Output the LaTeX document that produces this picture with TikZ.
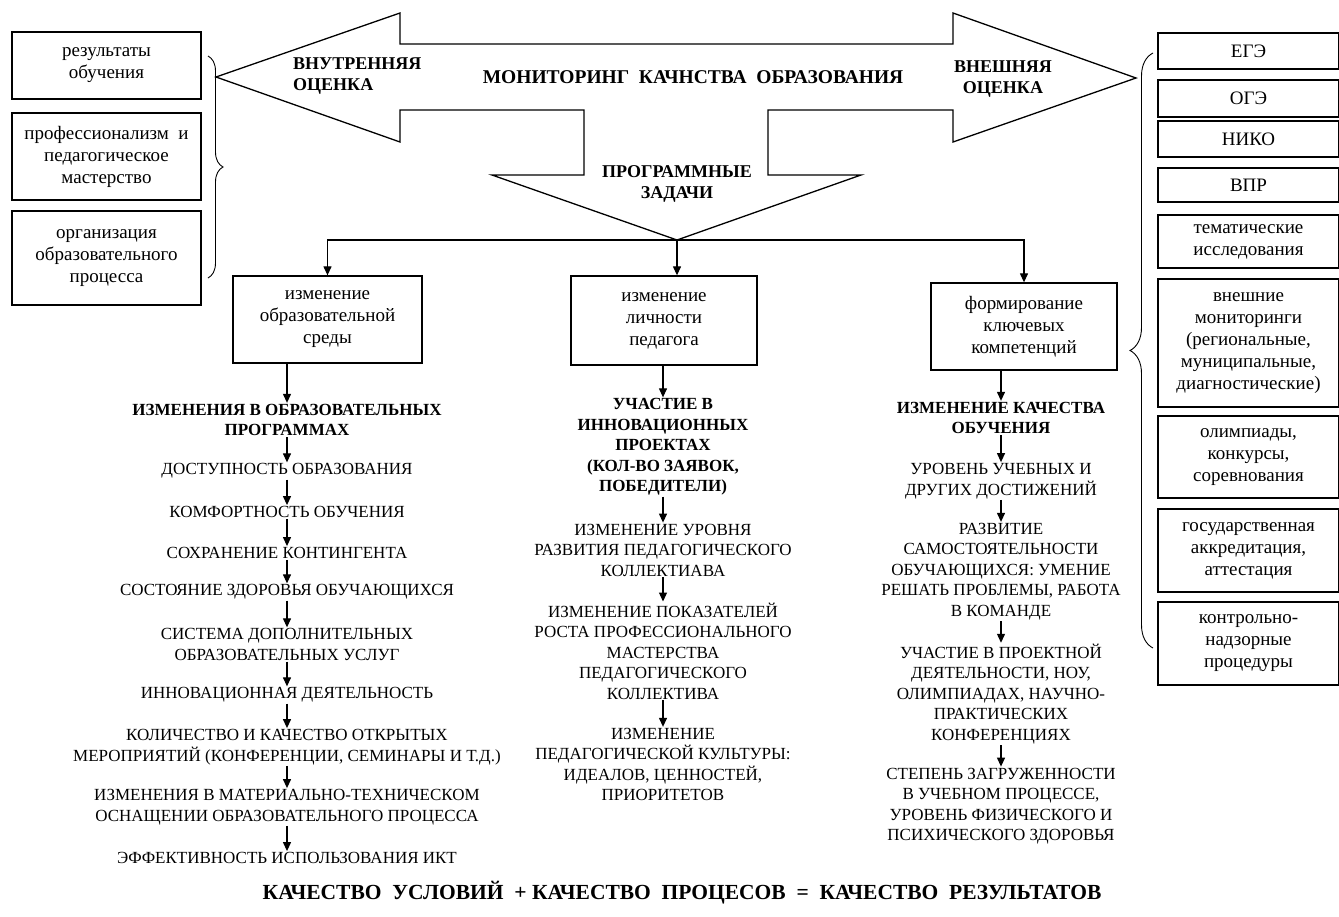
\documentclass[tikz,border=0pt]{standalone}
\usepackage{fontspec}
\setmainfont{LiberationSerif}[Extension=.ttf, UprightFont=*-Regular, BoldFont=*-Bold, ItalicFont=*-Italic, BoldItalicFont=*-BoldItalic]
\usetikzlibrary{arrows.meta, decorations.pathreplacing, calc}

\tikzset{
    box/.style={draw, line width=1.3pt, align=center, inner sep=0pt, font=\fontsize{19}{22}\selectfont},
    captxt/.style={align=center, inner sep=1pt, font=\fontsize{17}{20.5}\selectfont},
    capbold/.style={align=center, inner sep=1pt, font=\bfseries\fontsize{17}{20.5}\selectfont},
    lbl/.style={align=center, inner sep=0pt, font=\bfseries\fontsize{18}{21}\selectfont},
    arr/.style={line width=1.2pt, -{Triangle[length=9pt,width=8pt]}},
    brc/.style={line width=0.9pt, decorate, decoration={brace, amplitude=#1}},
}

\begin{document}
\begin{tikzpicture}[x=1pt, y=-1pt]
    \useasboundingbox (0,0) rectangle (1339,916);
    % big arrow
    \draw[line width=1.3pt, line join=miter] (216,77) -- (400,13) -- (400,44) -- (953,44) -- (953,13)
        -- (1136,78) -- (953,142) -- (953,110) -- (768,110) -- (768,175) -- (861,175)
        -- (677,240) -- (492,175) -- (584,175) -- (584,110) -- (400,110) -- (400,142) -- cycle;
    \node[lbl, align=left, anchor=west] (inner) at (293,76.5) {ВНУТРЕННЯЯ\\ОЦЕНКА};
    \node[lbl, font=\bfseries\fontsize{19.5}{22}\selectfont] (title) at (693,77) {МОНИТОРИНГ~~КАЧНСТВА~~ОБРАЗОВАНИЯ};
    \node[lbl] (outer) at (1003,79) {ВНЕШНЯЯ\\ОЦЕНКА};
    \node[lbl] (tasks) at (677,183.5) {ПРОГРАММНЫЕ\\ЗАДАЧИ};
    \coordinate (tip) at (677,240);

    % left boxes
    \node[box, minimum width=189pt, minimum height=67pt] (res) at (106.5,65.5) {результаты\\обучения};
    \node[box, minimum width=189pt, minimum height=87pt] (prof) at (106.5,156.5) {профессионализм~ и\\педагогическое\\мастерство};
    \node[box, minimum width=189pt, minimum height=94pt] (org) at (106.5,258) {организация\\образовательного\\процесса};
    \draw[brc=15pt] (208,56) -- (208,278);

    % right boxes
    \node[box, minimum width=181pt, minimum height=36pt] (ege) at (1248.5,51) {ЕГЭ};
    \node[box, minimum width=181pt, minimum height=37pt] (oge) at (1248.5,98.5) {ОГЭ};
    \node[box, minimum width=181pt, minimum height=36pt] (niko) at (1248.5,139) {НИКО};
    \node[box, minimum width=181pt, minimum height=34pt] (vpr) at (1248.5,185) {ВПР};
    \node[box, minimum width=181pt, minimum height=53pt] (them) at (1248.5,241.5) {тематические\\исследования};
    \node[box, minimum width=181pt, minimum height=128pt] (extm) at (1248.5,343) {внешние\\мониторинги\\(региональные,\\муниципальные,\\диагностические)};
    \node[box, minimum width=181pt, minimum height=82pt] (olym) at (1248.5,457) {олимпиады,\\конкурсы,\\соревнования};
    \node[box, minimum width=181pt, minimum height=83pt] (gos) at (1248.5,550.5) {государственная\\аккредитация,\\аттестация};
    \node[box, minimum width=181pt, minimum height=83pt] (ctrl) at (1248.5,643.5) {контрольно-\\надзорные\\процедуры};
    \draw[brc=23pt] (1153,648) -- (1153,53);

    % task boxes
    \node[box, minimum width=189pt, minimum height=87pt] (env) at (327.5,319.5) {изменение\\образовательной\\среды};
    \node[box, minimum width=186pt, minimum height=89pt] (pers) at (664,320.5) {изменение\\личности\\педагога};
    \node[box, minimum width=186pt, minimum height=87pt] (comp) at (1024,326.5) {формирование\\ключевых\\компетенций};
    \draw[arr] (tip) -| (env.north);
    \draw[arr] (tip) -- (tip |- pers.north);
    \draw[arr] (tip) -| (comp.north);

    % left column
    \node[capbold] (L0) at (287,420) {ИЗМЕНЕНИЯ В ОБРАЗОВАТЕЛЬНЫХ\\ПРОГРАММАХ};
    \node[captxt] (L1) at (287,471) {ДОСТУПНОСТЬ ОБРАЗОВАНИЯ};
    \node[captxt] (L2) at (287,512) {КОМФОРТНОСТЬ ОБУЧЕНИЯ};
    \node[captxt] (L3) at (287,553) {СОХРАНЕНИЕ КОНТИНГЕНТА};
    \node[captxt] (L4) at (287,592) {СОСТОЯНИЕ ЗДОРОВЬЯ ОБУЧАЮЩИХСЯ};
    \node[captxt] (L5) at (287,644.5) {СИСТЕМА ДОПОЛНИТЕЛЬНЫХ\\ОБРАЗОВАТЕЛЬНЫХ УСЛУГ};
    \node[captxt] (L6) at (287,695) {ИННОВАЦИОННАЯ ДЕЯТЕЛЬНОСТЬ};
    \node[captxt] (L7) at (287,747) {КОЛИЧЕСТВО И КАЧЕСТВО ОТКРЫТЫХ\\МЕРОПРИЯТИЙ (КОНФЕРЕНЦИИ, СЕМИНАРЫ И Т.Д.)};
    \node[captxt] (L8) at (287,807) {ИЗМЕНЕНИЯ В МАТЕРИАЛЬНО-ТЕХНИЧЕСКОМ\\ОСНАЩЕНИИ ОБРАЗОВАТЕЛЬНОГО ПРОЦЕССА};
    \node[captxt] (L9) at (287,858) {ЭФФЕКТИВНОСТЬ ИСПОЛЬЗОВАНИЯ ИКТ};
    \draw[arr] (env.south -| L0.north) -- (L0.north);
    \foreach \a/\b in {L0/L1, L1/L2, L2/L3, L3/L4, L4/L5, L5/L6, L6/L7, L7/L8, L8/L9}
        \draw[arr] (\a) -- (\b);

    % middle column
    \node[capbold] (M0) at (663,447) {УЧАСТИЕ В\\ИННОВАЦИОННЫХ\\ПРОЕКТАХ\\(КОЛ-ВО ЗАЯВОК,\\ПОБЕДИТЕЛИ)};
    \node[captxt] (M1) at (663,550) {ИЗМЕНЕНИЕ УРОВНЯ\\РАЗВИТИЯ ПЕДАГОГИЧЕСКОГО\\КОЛЛЕКТИАВА};
    \node[captxt] (M2) at (663,651) {ИЗМЕНЕНИЕ ПОКАЗАТЕЛЕЙ\\РОСТА ПРОФЕССИОНАЛЬНОГО\\МАСТЕРСТВА\\ПЕДАГОГИЧЕСКОГО\\КОЛЛЕКТИВА};
    \node[captxt] (M3) at (663,764.5) {ИЗМЕНЕНИЕ\\ПЕДАГОГИЧЕСКОЙ КУЛЬТУРЫ:\\ИДЕАЛОВ, ЦЕННОСТЕЙ,\\ПРИОРИТЕТОВ};
    \draw[arr] (pers.south -| M0.north) -- (M0.north);
    \foreach \a/\b in {M0/M1, M1/M2, M2/M3}
        \draw[arr] (\a) -- (\b);

    % right column
    \node[capbold] (R0) at (1001,418) {ИЗМЕНЕНИЕ КАЧЕСТВА\\ОБУЧЕНИЯ};
    \node[captxt] (R1) at (1001,481) {УРОВЕНЬ УЧЕБНЫХ И\\ДРУГИХ ДОСТИЖЕНИЙ};
    \node[captxt] (R2) at (1001,571.5) {РАЗВИТИЕ\\САМОСТОЯТЕЛЬНОСТИ\\ОБУЧАЮЩИХСЯ: УМЕНИЕ\\РЕШАТЬ ПРОБЛЕМЫ, РАБОТА\\В КОМАНДЕ};
    \node[captxt] (R3) at (1001,694) {УЧАСТИЕ В ПРОЕКТНОЙ\\ДЕЯТЕЛЬНОСТИ, НОУ,\\ОЛИМПИАДАХ, НАУЧНО-\\ПРАКТИЧЕСКИХ\\КОНФЕРЕНЦИЯХ};
    \node[captxt] (R4) at (1001,806) {СТЕПЕНЬ ЗАГРУЖЕННОСТИ\\В УЧЕБНОМ ПРОЦЕССЕ,\\УРОВЕНЬ ФИЗИЧЕСКОГО И\\ПСИХИЧЕСКОГО ЗДОРОВЬЯ};
    \draw[arr] (comp.south -| R0.north) -- (R0.north);
    \foreach \a/\b in {R0/R1, R1/R2, R2/R3, R3/R4}
        \draw[arr] (\a) -- (\b);

    \node[lbl, font=\bfseries\fontsize{21.5}{24}\selectfont] (sum) at (682,893) {КАЧЕСТВО~~УСЛОВИЙ~~+~КАЧЕСТВО~~ПРОЦЕСОВ~~=~~КАЧЕСТВО~~РЕЗУЛЬТАТОВ};
\end{tikzpicture}
\end{document}
